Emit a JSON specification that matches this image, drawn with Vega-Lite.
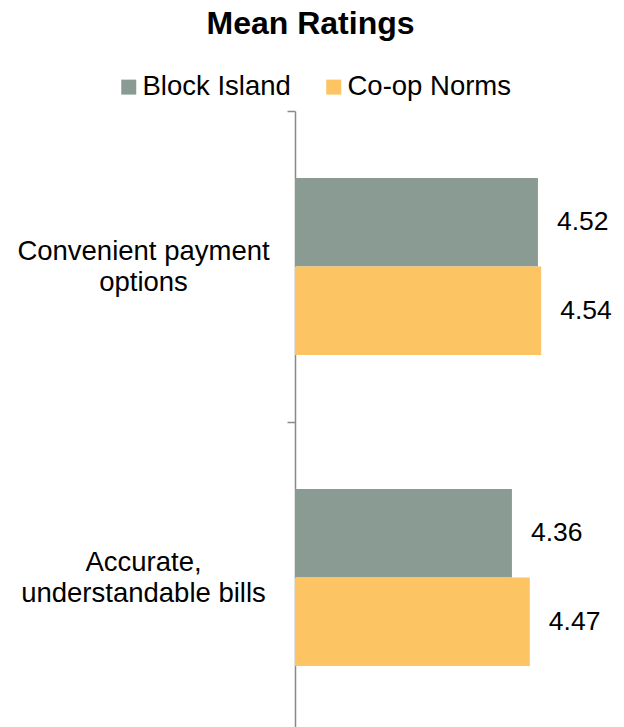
{
  "$schema": "https://vega.github.io/schema/vega-lite/v6.json",
  "autosize": "none",
  "width": 325,
  "height": 622,
  "padding": {"left": 295, "top": 111, "right": 4, "bottom": 0},
  "background": "white",
  "title": {
    "text": "Mean Ratings",
    "font": "Liberation Sans",
    "fontSize": 32,
    "fontWeight": "bold",
    "color": "black",
    "anchor": "middle",
    "frame": "group",
    "dx": -147,
    "offset": 32
  },
  "config": {"view": {"stroke": null}},
  "data": {
    "values": [
      {"item": "Convenient payment|options", "series": "Block Island", "value": 4.52},
      {"item": "Convenient payment|options", "series": "Co-op Norms", "value": 4.54},
      {"item": "Accurate,|understandable bills", "series": "Block Island", "value": 4.36},
      {"item": "Accurate,|understandable bills", "series": "Co-op Norms", "value": 4.47}
    ]
  },
  "encoding": {
    "y": {
      "field": "item",
      "type": "nominal",
      "sort": null,
      "scale": {"paddingInner": 0, "paddingOuter": 0},
      "axis": {
        "title": null,
        "labelExpr": "split(datum.label, '|')",
        "labelFont": "Liberation Sans",
        "labelFontSize": 27.5,
        "labelColor": "black",
        "labelAlign": "center",
        "labelBaseline": "middle",
        "labelLineHeight": 31,
        "labelPadding": 144,
        "labelOffset": -15,
        "tickSize": 8,
        "tickColor": "#898989",
        "tickWidth": 1.5,
        "tickBand": "extent",
        "domainColor": "#898989",
        "domainWidth": 1.5,
        "labelLimit": 400
      }
    },
    "yOffset": {
      "field": "series",
      "type": "nominal",
      "sort": ["Block Island", "Co-op Norms"],
      "scale": {"paddingInner": 0, "paddingOuter": 0.757}
    },
    "x": {
      "field": "value",
      "type": "quantitative",
      "scale": {"domain": [3.025, 5.025], "zero": false, "nice": false},
      "axis": null
    }
  },
  "layer": [
    {
      "mark": {"type": "bar"},
      "encoding": {
        "x2": {"datum": 3.025},
        "color": {
          "field": "series",
          "type": "nominal",
          "sort": ["Block Island", "Co-op Norms"],
          "scale": {"domain": ["Block Island", "Co-op Norms"], "range": ["#8A9B94", "#FCC463"]},
          "legend": {
            "title": null,
            "orient": "none",
            "direction": "horizontal",
            "legendX": -180,
            "legendY": -38,
            "symbolType": "square",
            "symbolSize": 225,
            "symbolStrokeWidth": 0,
            "labelFont": "Liberation Sans",
            "labelFontSize": 27.5,
            "labelColor": "black",
            "labelOffset": 0,
            "labelLimit": 400,
            "columnPadding": 29
          }
        }
      }
    },
    {
      "mark": {"type": "text", "align": "left", "baseline": "middle", "dx": 19, "font": "Liberation Sans", "fontSize": 26.5, "color": "black"},
      "encoding": {
        "text": {"field": "value", "type": "quantitative", "format": ".2f"}
      }
    }
  ]
}
